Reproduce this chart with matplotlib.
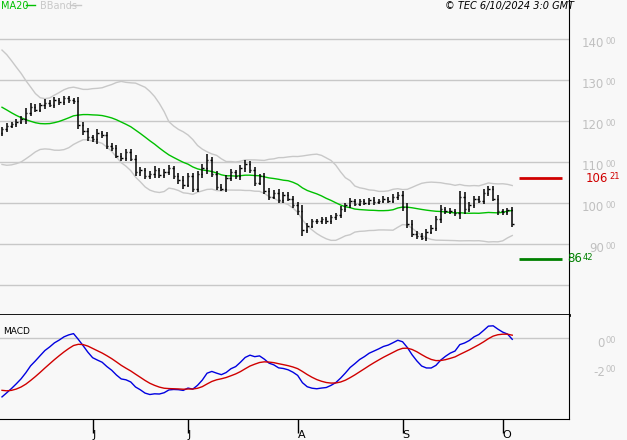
import numpy as np
import pandas as pd
import matplotlib.pyplot as plt
import matplotlib.transforms as mtransforms

# closes before the visible window (only used to warm up the indicators)
pre_close = [131.5, 132.0, 131.0, 132.5, 133.0, 132.0, 131.5, 132.5, 133.5, 132.0,
             131.0, 132.0, 133.0, 132.5, 131.5, 132.0, 131.0, 130.0, 128.0, 125.5,
             123.0, 120.5, 118.5, 117.0, 116.0, 115.0, 115.5, 115.0, 116.0, 117.0]

close = [118.0, 118.8, 119.2, 119.8, 120.5, 122.0, 123.5, 122.8,
         123.8, 124.5, 124.0, 125.0, 124.6, 125.5, 125.0, 124.8,
         119.0, 117.5, 116.0, 115.5, 117.0, 116.5, 114.0, 113.5,
         111.5, 111.0, 112.5, 110.8, 107.5,
         108.0, 106.5, 107.0, 108.0, 106.8, 107.5, 108.5, 106.5,
         105.5, 104.5, 106.5, 103.5, 107.0, 108.5, 110.5, 107.0,
         104.0, 103.5, 106.0, 107.5, 106.5, 108.5, 109.5, 108.0,
         105.0, 106.5, 103.0, 101.5, 102.5, 100.8, 102.0, 101.0,
         99.5, 98.0, 93.5, 94.5, 95.5, 95.5, 96.0, 95.5, 96.5,
         97.0, 98.5, 99.5,
         100.5, 99.8, 100.5, 100.0, 100.8, 100.2, 100.5, 101.0, 100.5, 101.5, 102.0,
         99.0, 95.0, 92.5, 92.0, 91.5, 93.0, 94.0, 96.0, 98.5,
         98.0, 98.0, 97.5, 101.5, 98.5, 99.5, 101.0, 100.5,
         102.5, 103.5, 101.0, 98.0, 97.8, 98.2, 95.0]

# extra range above/below the open-close body, per bar
wick = [0.6, 0.8, 0.5, 0.7, 0.6, 1.2, 0.8, 0.6, 0.7, 0.9, 0.5, 0.8, 0.6, 0.7, 0.5, 0.6,
        1.0, 0.8, 0.9, 0.7, 1.0, 0.6, 0.8, 0.7, 0.6, 0.8, 0.7, 0.6, 0.9,
        0.8, 0.6, 0.7, 1.0, 0.6, 0.8, 0.7, 0.6, 0.8, 1.2, 0.7, 0.9, 0.8, 0.9, 1.5, 0.7,
        0.8, 0.6, 0.9, 0.7, 0.6, 0.8, 1.0, 0.7, 0.8, 0.6, 0.9, 0.7, 0.6, 0.8, 0.7, 0.6,
        0.7, 0.8, 1.5, 0.7, 0.6, 0.5, 0.6, 0.5, 0.6, 0.6, 0.7, 0.6,
        0.7, 0.6, 0.5, 0.6, 0.5, 0.6, 0.5, 0.6, 0.5, 0.6, 0.8,
        0.9, 1.0, 0.8, 0.7, 0.6, 0.7, 0.6, 0.8, 0.9,
        0.6, 0.7, 0.6, 1.5, 1.2, 0.7, 0.8, 0.6, 0.8, 0.7, 0.6, 0.9, 0.6, 0.7, 0.9]

month_idx = [19, 39, 62, 84, 105]
month_lbl = ["J", "J", "A", "S", "O"]
res_level = 106.21
sup_level = 86.42
price_ticks = [90, 100, 110, 120, 130, 140]
macd_ticks = [0, -200]

BG = "#f8f8f8"
GRID = "#c8c8c8"
LBL = "#c0c0c0"

allc = pd.Series(pre_close + close)
ma = allc.rolling(20, min_periods=1).mean()
sd = allc.rolling(20, min_periods=1).std(ddof=0)
up = ma + 2 * sd
lo = ma - 2 * sd
macd = (allc.ewm(span=12, adjust=False).mean() - allc.ewm(span=26, adjust=False).mean()) * 100
sig = macd.ewm(span=9, adjust=False).mean()
n0 = len(pre_close)
ma, up, lo, macd, sig = [s.values[n0:] for s in (ma, up, lo, macd, sig)]

c = np.array(close)
o = np.array([pre_close[-1]] + close[:-1])
w = np.array(wick)
h = np.maximum(o, c) + w
l = np.minimum(o, c) - w
x = np.arange(len(c))

fig = plt.figure(figsize=(6.27, 4.40), dpi=100, facecolor=BG)
W, H = 627, 440
ax = fig.add_axes([0, 1 - 315 / H, 569 / W, 315 / H], facecolor=BG)
ax2 = fig.add_axes([0, 1 - 419 / H, 569 / W, 104 / H], facecolor=BG)

for a in (ax, ax2):
    a.set_xlim(-0.42, 118.9)
    a.set_xticks([])
    a.set_yticks([])
    for s in a.spines.values():
        s.set_visible(False)
    a.spines["right"].set_visible(True)
    a.spines["right"].set_color("black")

ax.set_ylim(72.7, 149.5)
for p in [80] + price_ticks:
    ax.axhline(p, color=GRID, lw=1)
ax.plot(x, up, color="#c8c8c8", lw=1)
ax.plot(x, lo, color="#c8c8c8", lw=1)
ax.plot(x, ma, color="#00c000", lw=1)
ax.vlines(x, l, h, color="black", lw=1.1)
ax.hlines(o, x - 0.3, x, color="black", lw=1)
ax.hlines(c, x, x + 0.3, color="black", lw=1)
ax.hlines(res_level, 108.4, 117.4, color="#d00000", lw=2)
ax.hlines(sup_level, 108.4, 117.4, color="#008000", lw=2)
ax.spines["bottom"].set_visible(True)
ax.spines["bottom"].set_linewidth(2)


def lab(a, trans, px, y, dy, big, small, col):
    # main number right-aligned at px, small raised decimals just after it
    a.text(px / 569, y, big, transform=trans, color=col, fontsize=8.5, va="center", ha="right")
    a.text((px + 1) / 569, y + dy, small, transform=trans, color=col, fontsize=6, va="center", ha="left")


tr = mtransforms.blended_transform_factory(ax.transAxes, ax.transData)
for p in price_ticks:
    lab(ax, tr, 604, p - 1.2, 0.5, str(p), "00", LBL)
lab(ax, tr, 608, res_level - 0.3, 0.5, "106", "21", "#d00000")
lab(ax, tr, 582, sup_level, 0.3, "86", "42", "#008000")

fig.text(1 / W, 1 - 6 / H, "MA20", color="#00c000", fontsize=7, va="center")
fig.add_artist(plt.Line2D([26 / W, 35 / W], [1 - 5 / H] * 2, color="#00c000", lw=1))
fig.text(40 / W, 1 - 6 / H, "BBands", color="#c8c8c8", fontsize=7, va="center")
fig.add_artist(plt.Line2D([70 / W, 81 / W], [1 - 5 / H] * 2, color="#c8c8c8", lw=1))
fig.text(574 / W, 1 - 6 / H, "© TEC 6/10/2024 3:0 GMT", fontsize=7, style="italic", ha="right", va="center")

ax2.set_ylim(-559, 159)
ax2.axhline(0, color=GRID, lw=1)
ax2.plot(x, macd, color="#0000e0", lw=1)
ax2.plot(x, sig, color="#d00000", lw=1)
ax2.spines["bottom"].set_visible(True)
ax2.text(0.005, 0.84, "MACD", transform=ax2.transAxes, fontsize=6.5, va="center")
tr2 = mtransforms.blended_transform_factory(ax2.transAxes, ax2.transData)
for p in macd_ticks:
    lab(ax2, tr2, 605, p - 35, 15, "%d" % (p // 100) if p else "0", "00", LBL)
ax2.set_xticks(month_idx)
ax2.set_xticklabels(month_lbl, fontsize=8)
ax2.tick_params(axis="x", length=10, width=1, direction="out", pad=-2)
for t in ax2.get_xticklabels():
    t.set_horizontalalignment("left")

fig.savefig("out.png", dpi=100, facecolor=BG)
